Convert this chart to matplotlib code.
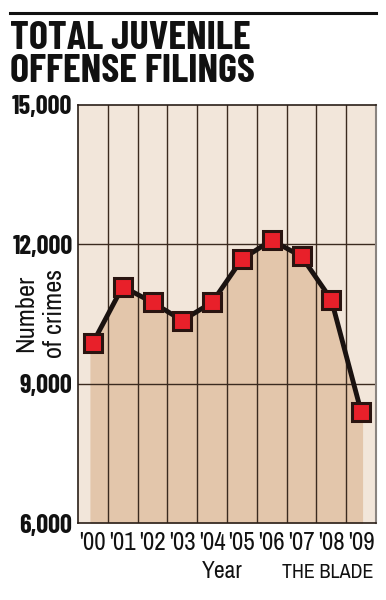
import matplotlib
matplotlib.use("Agg")
import matplotlib.pyplot as plt
import numpy as np

years = ["'00", "'01", "'02", "'03", "'04", "'05", "'06", "'07", "'08", "'09"]
values = [9880, 11090, 10750, 10360, 10750, 11680, 12090, 11740, 10810, 8400]
yticks = [6000, 9000, 12000, 15000]
ytick_labels = ["6,000", "9,000", "12,000", "15,000"]

NARROW = ["Archivo Narrow", "Barlow Condensed", "Encode Sans Condensed",
          "IBM Plex Sans Condensed", "Liberation Sans Narrow", "DejaVu Sans"]
BOLDNARROW = ["Barlow Condensed", "Oswald", "Encode Sans Condensed",
              "IBM Plex Sans Condensed", "Archivo Narrow", "DejaVu Sans"]

fig = plt.figure(figsize=(3.86, 6.0), dpi=100)
fig.patch.set_facecolor("white")

ax = fig.add_axes([78/386, 1-523/600, (376-78)/386, (523-105)/600])
ax.set_facecolor("#f2e6da")
x = np.arange(len(years))
ax.set_xlim(-0.5, len(years)-0.5)
ax.set_ylim(6000, 15000)

# area fill
xf = np.concatenate([[x[0]-0.1], x, [x[-1]+0.05]])
yf = np.concatenate([[values[0]], values, [values[-1]]])
ax.fill_between(xf, 6000, yf, color="#e3c6ab", zorder=1, linewidth=0)

# grid
for b in np.arange(0.5, len(years)-0.5, 1.0):
    ax.axvline(b, color="#3b2a1f", lw=1.0, zorder=2)
for yv in [9000, 12000]:
    ax.axhline(yv, color="#3b2a1f", lw=1.0, zorder=2)

ax.plot(x, values, color="#1a1210", lw=3.5, zorder=3)
ax.plot(x, values, linestyle="none", marker="s", markersize=13,
        markerfacecolor="#e8202a", markeredgecolor="#2a1410", markeredgewidth=2.2, zorder=4)

for s in ["left", "bottom", "top"]:
    ax.spines[s].set_color("#2a1f18")
    ax.spines[s].set_linewidth(1.2)
ax.spines["right"].set_color("#8a8480")
ax.spines["right"].set_linewidth(1.5)

ax.set_yticks(yticks)
ax.set_yticklabels(ytick_labels, fontfamily=BOLDNARROW, fontweight="bold", fontsize=19, color="#111111")
ax.set_xticks(x)
ax.set_xticklabels(years, fontfamily=NARROW, fontsize=18, color="#111111")
ax.tick_params(axis="both", length=0)
ax.tick_params(axis="y", pad=4)
ax.tick_params(axis="x", pad=6)

# title and rule
fig.add_artist(plt.Line2D([10/386, 376/386], [1-13/600, 1-13/600], color="#111111", lw=2.2))
fig.text(10/386, 1-49/600, "TOTAL JUVENILE", fontfamily=BOLDNARROW, fontweight="bold",
         fontsize=29, color="#111111", va="baseline", ha="left")
fig.text(10/386, 1-82/600, "OFFENSE FILINGS", fontfamily=BOLDNARROW, fontweight="bold",
         fontsize=29, color="#111111", va="baseline", ha="left")

fig.text(26/386, 1-313/600, "Number", rotation=90, fontfamily=NARROW, fontsize=19,
         color="#111111", ha="center", va="center")
fig.text(54/386, 1-313/600, "of crimes", rotation=90, fontfamily=NARROW, fontsize=19,
         color="#111111", ha="center", va="center")

fig.text(222/386, 1-571/600, "Year", fontfamily=NARROW, fontsize=17,
         color="#111111", ha="center", va="center")
fig.text(373/386, 1-572/600, "THE BLADE", fontfamily=NARROW, fontsize=14.5,
         color="#111111", ha="right", va="center")

fig.savefig("out.png", dpi=100, facecolor="white")
